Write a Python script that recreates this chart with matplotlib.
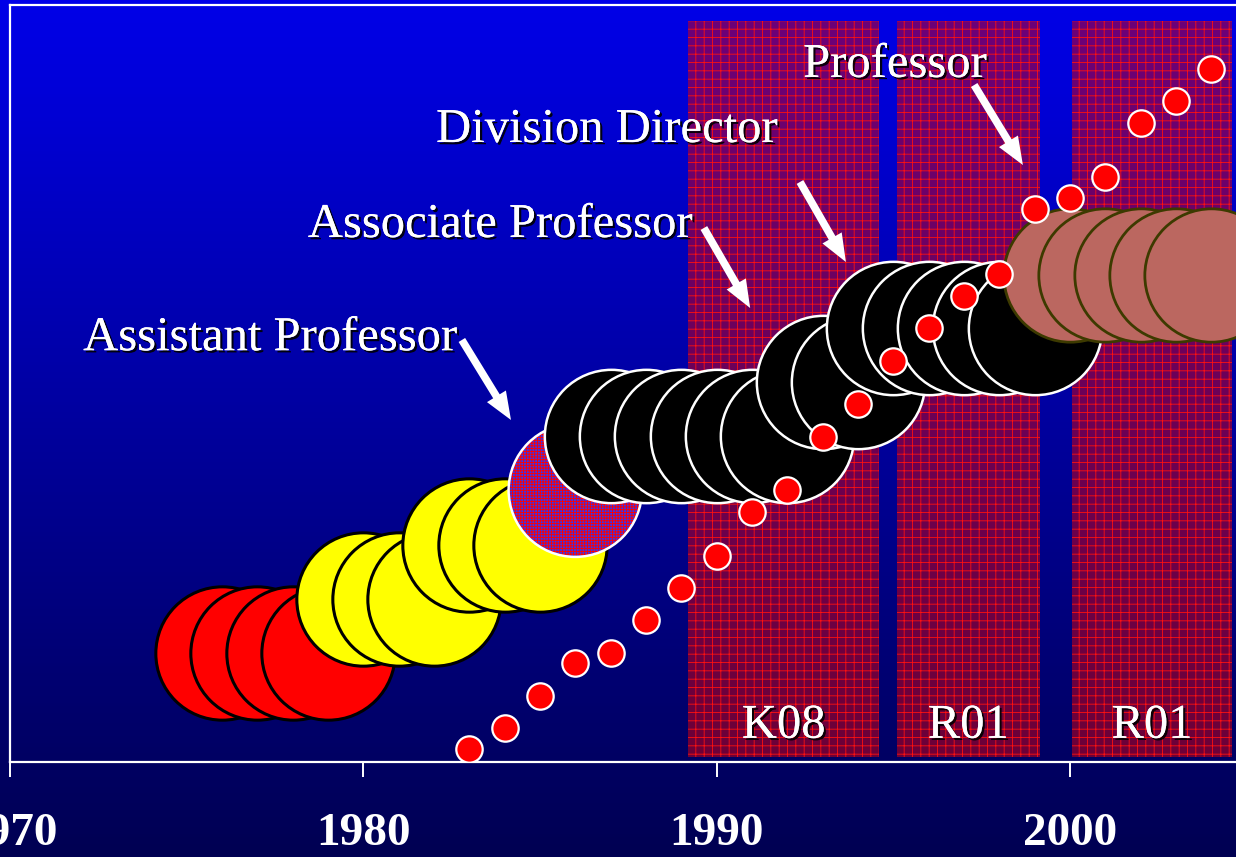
import matplotlib
matplotlib.use("Agg")
import matplotlib.pyplot as plt
import matplotlib.patheffects as pe
import numpy as np

plt.rcParams["font.family"] = ["Liberation Serif", "DejaVu Serif"]
plt.rcParams["hatch.linewidth"] = 0.6

# small dots: one per year
dot_years = list(range(1983, 2005))
dot_values = [1.7, 4.5, 8.7, 13.1, 14.4, 18.8, 23.0, 27.2, 33.0, 35.9, 42.9,
              47.3, 53.0, 57.3, 61.6, 64.5, 73.1, 74.5, 77.3, 84.4, 87.3, 91.6]

# big circles: one per year, grouped by career stage
big_years = list(range(1976, 2005))
big_values = ([14.4] * 4 + [21.5] * 3 + [28.7] * 3 + [35.9] + [43.1] * 6
              + [50.2] * 2 + [57.3] * 5 + [64.3] * 5)
big_kind = (["red"] * 4 + ["yellow"] * 6 + ["hatched"] + ["black"] * 13
            + ["brown"] * 5)

# grant periods
grant_names = ["K08", "R01", "R01"]
grant_start = [1989.2, 1995.1, 2000.05]
grant_end = [1994.6, 1999.15, 2004.6]

# stage labels with arrows
stage_names = ["Assistant Professor", "Associate Professor",
               "Division Director", "Professor"]
stage_text_xy = [(1972.07, 54.4), (1978.43, 69.35), (1982.06, 81.9),
                 (1992.45, 90.5)]
arrow_tail = [(1982.79, 55.75), (1989.64, 70.54), (1992.36, 76.62),
              (1997.29, 89.43)]
arrow_tip = [(1984.18, 45.18), (1990.95, 59.97), (1993.66, 66.05),
             (1998.67, 78.86)]

tick_years = [1970, 1980, 1990, 2000]

fig = plt.figure(figsize=(12.36, 8.57), dpi=100)

# background gradient
bg = fig.add_axes([0, 0, 1, 1], zorder=-10)
grad = np.linspace(0, 1, 256)[:, None]
top = np.array([0, 0, 232]) / 255
bottom = np.array([0, 0, 82]) / 255
img = top[None, None, :] * (1 - grad[:, :, None]) + bottom[None, None, :] * grad[:, :, None]
bg.imshow(img, aspect="auto", extent=[0, 1, 0, 1])
bg.set_axis_off()

ax = fig.add_axes([10 / 1236, 95 / 857, 1226 / 1236, 757 / 857])
ax.set_facecolor("none")
ax.set_xlim(1970, 1970 + 1226 / 35.33)
ax.set_ylim(0, 100)

shadow = [pe.withSimplePatchShadow(offset=(1.6, -1.6), shadow_rgbFace="black", alpha=0.9),
          pe.Normal()]

# grant bars
for name, s, e in zip(grant_names, grant_start, grant_end):
    ax.bar(s, 97.9 - 0.66, width=e - s, bottom=0.66, align="edge",
           facecolor=(0.85, 0, 0.05, 0.5), edgecolor="#ff1010", linewidth=0,
           hatch="++", zorder=1)
    ax.text((s + e) / 2, 3.2, name, ha="center", va="baseline",
            fontsize=35, color="white", path_effects=shadow, zorder=60)

# big circles
styles = {
    "red": dict(c="red", edgecolors="black", linewidths=2.2),
    "yellow": dict(c="yellow", edgecolors="black", linewidths=2.2),
    "black": dict(c="black", edgecolors="white", linewidths=1.8),
    "brown": dict(c="#bb6760", edgecolors="#3d3a00", linewidths=2.0),
}
ms = 96 ** 2
for i, (yr, v, kind) in enumerate(zip(big_years, big_values, big_kind)):
    z = 10 + i
    if kind == "hatched":
        ax.scatter([yr], [v], s=ms, c="#3535f0", edgecolors="red",
                   linewidths=0, hatch="++++++", zorder=z)
        ax.scatter([yr], [v], s=ms, facecolors="none", edgecolors="white",
                   linewidths=1.8, zorder=z)
    else:
        ax.scatter([yr], [v], s=ms, zorder=z, **styles[kind])

# small dots
ax.scatter(dot_years, dot_values, s=19 ** 2, c="red", edgecolors="white",
           linewidths=1.6, zorder=50)

# stage labels and arrows
for name, (tx, ty), tail, tip in zip(stage_names, stage_text_xy, arrow_tail, arrow_tip):
    ax.text(tx, ty, name, ha="left", va="baseline", fontsize=35,
            color="white", path_effects=shadow, zorder=60)
    ax.annotate("", xy=tip, xytext=tail,
                arrowprops=dict(arrowstyle="simple,head_length=20,head_width=16,tail_width=5.5",
                                mutation_scale=1, fc="white", ec="none",
                                shrinkA=0, shrinkB=0),
                zorder=60)

for side in ["left", "top", "bottom"]:
    ax.spines[side].set_color("white")
    ax.spines[side].set_linewidth(1.6)
ax.spines["right"].set_visible(False)

ax.set_yticks([])
ax.set_xticks(tick_years)
ax.set_xticklabels([str(t) for t in tick_years], fontsize=34, fontweight="bold",
                   color="white")
ax.tick_params(axis="x", colors="white", length=11, width=1.4, pad=26)

fig.savefig("out.png", dpi=100)
